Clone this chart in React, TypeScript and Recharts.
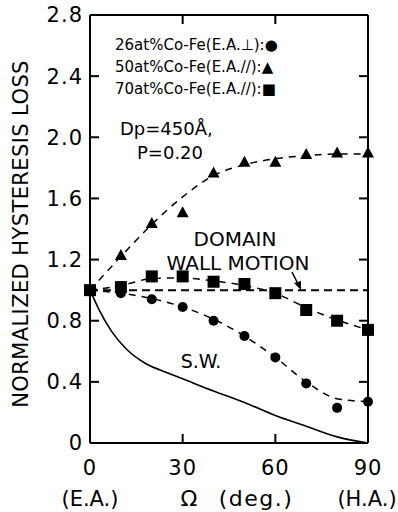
import { ComposedChart, Line, Scatter, XAxis, YAxis } from 'recharts';

// measured angles (deg)
const angles = [0, 10, 20, 30, 40, 50, 60, 70, 80, 90];

// markers
const co26 = [1.0, 0.98, 0.94, 0.89, 0.8, 0.7, 0.56, 0.39, 0.23, 0.27];
const co50 = [1.0, 1.23, 1.44, 1.51, 1.77, 1.84, 1.84, 1.89, 1.9, 1.9];
const co70 = [1.0, 1.02, 1.09, 1.09, 1.055, 1.04, 0.98, 0.87, 0.8, 0.74];

// dashed guide curves
const fit26 = [1.0, 0.98, 0.945, 0.89, 0.81, 0.7, 0.56, 0.4, 0.29, 0.27];
const fit50 = [1.0, 1.22, 1.43, 1.61, 1.75, 1.82, 1.86, 1.88, 1.89, 1.89];
const fit70 = [1.0, 1.03, 1.075, 1.08, 1.06, 1.03, 0.98, 0.885, 0.805, 0.74];

// domain wall motion
const dwAngles = [0, 90];
const dwVals = [1.0, 1.0];

// Stoner-Wohlfarth
const swAngles = [0, 3, 7, 12, 18, 25, 30, 40, 50, 60, 70, 80, 90];
const swVals = [1.0, 0.87, 0.73, 0.61, 0.52, 0.46, 0.42, 0.34, 0.265, 0.18, 0.11, 0.04, 0];

const xTicks = [0, 30, 60, 90];
const yTicks = [0, 0.4, 0.8, 1.2, 1.6, 2.0, 2.4, 2.8];
const innerXTicks = [30, 60];
const innerYTicks = [0.4, 0.8, 1.2, 1.6, 2.0, 2.4];

const X_MAX = 90;
const Y_MAX = 2.8;
const TICK = 9;

const pts = (xs: number[], ys: number[]) => xs.map((x, i) => ({ x, y: ys[i] }));
const atX = (xs: number[], y: number) => xs.map((x) => ({ x, y }));
const atY = (x: number, ys: number[]) => ys.map((y) => ({ x, y }));

const Dot = (p: any) => <circle cx={p.cx} cy={p.cy} r={5} fill="#000" />;
const Tri = (p: any) => (
  <polygon points={`${p.cx},${p.cy - 6} ${p.cx - 6},${p.cy + 5} ${p.cx + 6},${p.cy + 5}`} fill="#000" />
);
const Sq = (p: any) => <rect x={p.cx - 6} y={p.cy - 6} width={12} height={12} fill="#000" />;

// inward tick marks, placed through the axis scales
const TickUp = (p: any) => <line x1={p.cx} x2={p.cx} y1={p.cy} y2={p.cy - TICK} stroke="#000" strokeWidth={2} />;
const TickDown = (p: any) => <line x1={p.cx} x2={p.cx} y1={p.cy} y2={p.cy + TICK} stroke="#000" strokeWidth={2} />;
const TickRight = (p: any) => <line x1={p.cx} x2={p.cx + TICK} y1={p.cy} y2={p.cy} stroke="#000" strokeWidth={2} />;
const TickLeft = (p: any) => <line x1={p.cx} x2={p.cx - TICK} y1={p.cy} y2={p.cy} stroke="#000" strokeWidth={2} />;

const tickTxt = { fontSize: 21, fill: '#000', letterSpacing: 1 };

export default function App() {
  return (
    <div style={{ position: 'absolute', left: 0, top: 0, width: 398, height: 512, background: '#fff', fontFamily: 'DejaVu Sans' }}>
      <ComposedChart width={398} height={512} margin={{ top: 15, right: 30, bottom: 39, left: 0 }}>
        <XAxis xAxisId="b" type="number" dataKey="x" domain={[0, X_MAX]} ticks={xTicks} height={30} interval={0}
          stroke="#000" strokeWidth={2} tickLine={false} tick={tickTxt} tickSize={8} tickMargin={9} />
        <XAxis xAxisId="t" orientation="top" type="number" dataKey="x" domain={[0, X_MAX]} mirror
          stroke="#000" strokeWidth={2} tick={false} tickLine={false} />
        <YAxis yAxisId="l" type="number" dataKey="y" domain={[0, Y_MAX]} ticks={yTicks} width={90} interval={0}
          stroke="#000" strokeWidth={2} tickLine={false} tick={tickTxt} tickSize={4} tickMargin={3}
          tickFormatter={(v: number) => (v === 0 ? '0' : v.toFixed(1))} />
        <YAxis yAxisId="r" orientation="right" type="number" dataKey="y" domain={[0, Y_MAX]} mirror
          stroke="#000" strokeWidth={2} tick={false} tickLine={false} />

        {/* invisible series so the frame axes get a scale */}
        <Line xAxisId="t" yAxisId="r" data={pts(dwAngles, dwVals)} dataKey="y" stroke="none" dot={false} isAnimationActive={false} />

        <Scatter xAxisId="b" yAxisId="l" data={atX(innerXTicks, 0)} dataKey="y" shape={TickUp} isAnimationActive={false} />
        <Scatter xAxisId="b" yAxisId="l" data={atX(innerXTicks, Y_MAX)} dataKey="y" shape={TickDown} isAnimationActive={false} />
        <Scatter xAxisId="b" yAxisId="l" data={atY(0, innerYTicks)} dataKey="y" shape={TickRight} isAnimationActive={false} />
        <Scatter xAxisId="b" yAxisId="l" data={atY(X_MAX, innerYTicks)} dataKey="y" shape={TickLeft} isAnimationActive={false} />

        <Line xAxisId="b" yAxisId="l" data={pts(swAngles, swVals)} dataKey="y" type="monotone"
          stroke="#000" strokeWidth={1.6} dot={false} isAnimationActive={false} />
        <Line xAxisId="b" yAxisId="l" data={pts(dwAngles, dwVals)} dataKey="y" type="linear"
          stroke="#000" strokeWidth={2} strokeDasharray="8 5" dot={false} isAnimationActive={false} />
        <Line xAxisId="b" yAxisId="l" data={pts(angles, fit26)} dataKey="y" type="monotone"
          stroke="#000" strokeWidth={1.5} strokeDasharray="7 6" dot={false} isAnimationActive={false} />
        <Line xAxisId="b" yAxisId="l" data={pts(angles, fit50)} dataKey="y" type="monotone"
          stroke="#000" strokeWidth={1.5} strokeDasharray="7 6" dot={false} isAnimationActive={false} />
        <Line xAxisId="b" yAxisId="l" data={pts(angles, fit70)} dataKey="y" type="monotone"
          stroke="#000" strokeWidth={1.5} strokeDasharray="7 6" dot={false} isAnimationActive={false} />

        <Scatter xAxisId="b" yAxisId="l" data={pts(angles, co26)} dataKey="y" shape={Dot} isAnimationActive={false} />
        <Scatter xAxisId="b" yAxisId="l" data={pts(angles, co50)} dataKey="y" shape={Tri} isAnimationActive={false} />
        <Scatter xAxisId="b" yAxisId="l" data={pts(angles, co70)} dataKey="y" shape={Sq} isAnimationActive={false} />
      </ComposedChart>

      <svg width={398} height={512} style={{ position: 'absolute', left: 0, top: 0, pointerEvents: 'none' }}>
        <text x={21} y={234} transform="rotate(-90 21 234)" textAnchor="middle" dominantBaseline="central"
          fontSize={21} letterSpacing={0.4}>NORMALIZED HYSTERESIS  LOSS</text>

        <g fontSize={15}>
          <text x={115} y={50}>26at%Co-Fe(E.A.⊥):●</text>
          <text x={115} y={72}>50at%Co-Fe(E.A.//):▲</text>
          <text x={115} y={94}>70at%Co-Fe(E.A.//):■</text>
        </g>
        <text x={120} y={135} fontSize={18}>Dp=450Å,</text>
        <text x={137} y={159} fontSize={18}>P=0.20</text>
        <text x={235} y={246} fontSize={20} textAnchor="middle">DOMAIN</text>
        <text x={238} y={270} fontSize={20} textAnchor="middle">WALL MOTION</text>
        <line x1={292} y1={272} x2={299} y2={286} stroke="#000" strokeWidth={1.5} />
        <polygon points="301,290 294,283 301,281" fill="#000" />
        <text x={201} y={368} fontSize={19} textAnchor="middle">S.W.</text>

        <text x={90} y={506} fontSize={21} textAnchor="middle">(E.A.)</text>
        <text x={189} y={506} fontSize={22} textAnchor="middle">Ω</text>
        <text x={256} y={506} fontSize={22} textAnchor="middle" letterSpacing={1.5}>(deg.)</text>
        <text x={367} y={506} fontSize={21} textAnchor="middle">(H.A.)</text>
      </svg>
    </div>
  );
}
